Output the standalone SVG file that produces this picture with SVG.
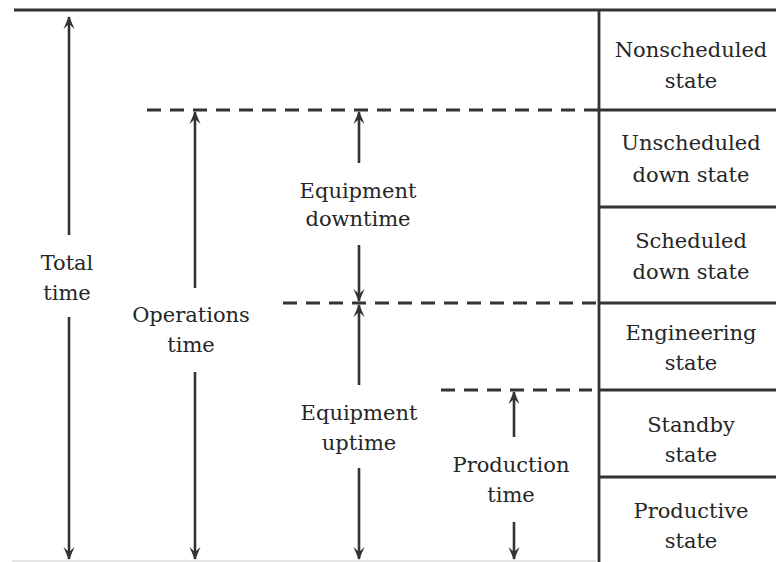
<svg xmlns="http://www.w3.org/2000/svg" width="776" height="562" viewBox="0 0 776 562">
<style>
text{font-family:"DejaVu Serif","Liberation Serif",serif;font-size:21px;fill:#262626;text-anchor:middle}
.s{stroke:#333;stroke-width:2.8;fill:none}
.d{stroke:#333;stroke-width:2.8;fill:none;stroke-dasharray:14 9}
.a{stroke:#333;stroke-width:2.6;fill:none}
</style>
<defs>
<marker id="ah" viewBox="-13 -7 15 14" markerWidth="15" markerHeight="14" refX="0" refY="0" orient="auto" markerUnits="userSpaceOnUse">
<path d="M1,0 L-12,-5.5 L-7,0 L-12,5.5 Z" fill="#333"/>
</marker>
</defs>
<rect width="776" height="562" fill="#fff"/>
<g id="frame">
<line class="s" x1="14" y1="10" x2="776" y2="10" stroke-width="3"/>
<line class="s" x1="599" y1="10" x2="599" y2="562"/>
<line x1="12" y1="561" x2="596" y2="561" stroke="#ddd" stroke-width="1.5"/>
</g>
<g id="dividers">
<line class="s" x1="599" y1="110" x2="776" y2="110"/>
<line class="s" x1="599" y1="207" x2="776" y2="207"/>
<line class="s" x1="599" y1="303" x2="776" y2="303"/>
<line class="s" x1="599" y1="390" x2="776" y2="390"/>
<line class="s" x1="599" y1="477" x2="776" y2="477"/>
<line class="d" x1="147" y1="110" x2="599" y2="110"/>
<line class="d" x1="283" y1="303" x2="599" y2="303"/>
<line class="d" x1="441" y1="390" x2="592" y2="390"/>
</g>
<g id="state-nonscheduled"><text x="691" y="57">Nonscheduled</text><text x="691" y="88">state</text></g>
<g id="state-unscheduled-down"><text x="691" y="150">Unscheduled</text><text x="691" y="182">down state</text></g>
<g id="state-scheduled-down"><text x="691" y="248">Scheduled</text><text x="691" y="279">down state</text></g>
<g id="state-engineering"><text x="691" y="340">Engineering</text><text x="691" y="370">state</text></g>
<g id="state-standby"><text x="691" y="432">Standby</text><text x="691" y="462">state</text></g>
<g id="state-productive"><text x="691" y="518">Productive</text><text x="691" y="548">state</text></g>
<g id="label-total"><text x="67" y="270">Total</text><text x="67" y="300">time</text></g>
<g id="label-operations"><text x="191" y="322">Operations</text><text x="191" y="352">time</text></g>
<g id="label-downtime"><text x="358" y="198">Equipment</text><text x="358" y="226">downtime</text></g>
<g id="label-uptime"><text x="359" y="420">Equipment</text><text x="359" y="450">uptime</text></g>
<g id="label-production"><text x="511" y="472">Production</text><text x="511" y="502">time</text></g>
<g id="connectors">
<line class="a" x1="69" y1="235" x2="69" y2="17" marker-end="url(#ah)"/>
<line class="a" x1="69" y1="317" x2="69" y2="559" marker-end="url(#ah)"/>
<line class="a" x1="195" y1="288" x2="195" y2="112" marker-end="url(#ah)"/>
<line class="a" x1="195" y1="372" x2="195" y2="559" marker-end="url(#ah)"/>
<line class="a" x1="359" y1="163" x2="359" y2="112" marker-end="url(#ah)"/>
<line class="a" x1="359" y1="245" x2="359" y2="301" marker-end="url(#ah)"/>
<line class="a" x1="359" y1="385" x2="359" y2="305" marker-end="url(#ah)"/>
<line class="a" x1="359" y1="468" x2="359" y2="559" marker-end="url(#ah)"/>
<line class="a" x1="514" y1="437" x2="514" y2="392" marker-end="url(#ah)"/>
<line class="a" x1="514" y1="522" x2="514" y2="559" marker-end="url(#ah)"/>
</g>
</svg>
